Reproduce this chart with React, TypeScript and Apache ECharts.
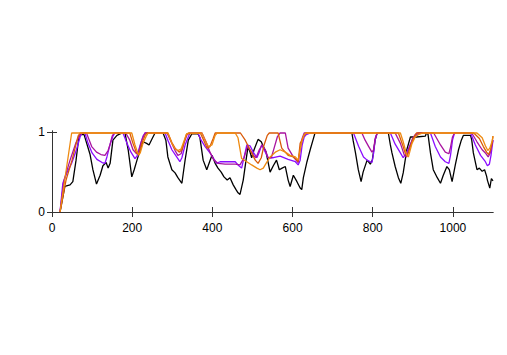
import React, { useEffect, useRef } from "react";
import * as echarts from "echarts";

const xTicks = [0, 200, 400, 600, 800, 1000];
const yTicks = [0, 1];

const blackSeries: [number, number][] = [
  [20, 0], [32, 0.32], [45, 0.34], [52, 0.38], [60, 0.65], [67, 0.94], [70, 0.97], [80, 0.97], [95, 0.72], [102, 0.53],
  [111, 0.35], [120, 0.46], [127, 0.58], [135, 0.62], [140, 0.55], [145, 0.61], [152, 0.9], [162, 0.96], [175, 0.99],
  [182, 0.99], [190, 0.78], [199, 0.44], [205, 0.53], [212, 0.65], [220, 0.78], [227, 0.88], [236, 0.86], [242, 0.84],
  [250, 0.92], [257, 0.99], [277, 0.99], [284, 0.9], [289, 0.69], [299, 0.53], [307, 0.49], [314, 0.43], [324, 0.36],
  [327, 0.47], [332, 0.65], [340, 0.9], [349, 0.98], [364, 0.98], [369, 0.93], [377, 0.65], [386, 0.53], [399, 0.71],
  [407, 0.61], [414, 0.55], [422, 0.5], [429, 0.44], [437, 0.4], [444, 0.43], [452, 0.34], [459, 0.28], [464, 0.24],
  [469, 0.22], [477, 0.4], [484, 0.65], [489, 0.82], [494, 0.75], [498, 0.68], [504, 0.78], [514, 0.91], [522, 0.88],
  [527, 0.82], [534, 0.75], [544, 0.5], [552, 0.58], [560, 0.65], [567, 0.53], [574, 0.55], [582, 0.57], [589, 0.4],
  [594, 0.32], [602, 0.46], [611, 0.38], [619, 0.3], [623, 0.28], [627, 0.43], [636, 0.63], [644, 0.78], [652, 0.92],
  [656, 0.99], [748, 0.99], [751, 0.9], [757, 0.74], [764, 0.53], [771, 0.38], [776, 0.5], [786, 0.65], [794, 0.6],
  [799, 0.65], [806, 0.9], [811, 0.99], [839, 0.99], [844, 0.84], [848, 0.74], [856, 0.57], [864, 0.43], [870, 0.36],
  [876, 0.49], [885, 0.78], [894, 0.94], [909, 0.94], [931, 0.95], [935, 1.0], [938, 0.97], [944, 0.74], [951, 0.53],
  [961, 0.43], [969, 0.36], [976, 0.46], [985, 0.57], [991, 0.53], [998, 0.38], [1006, 0.59], [1014, 0.78],
  [1021, 0.9], [1026, 0.96], [1044, 0.96], [1047, 0.9], [1051, 0.74], [1060, 0.53], [1066, 0.55], [1073, 0.51],
  [1079, 0.53], [1084, 0.45], [1086, 0.4], [1092, 0.3], [1096, 0.42], [1100, 0.39],
];

const violetSeries: [number, number][] = [
  [20, 0], [27, 0.36], [37, 0.49], [49, 0.61], [61, 0.78], [70, 0.94], [75, 0.99], [82, 0.99], [90, 0.86], [100, 0.74],
  [112, 0.66], [125, 0.62], [132, 0.61], [137, 0.69], [145, 0.85], [152, 0.95], [157, 0.99], [177, 0.99], [187, 0.86],
  [197, 0.75], [207, 0.67], [212, 0.7], [220, 0.84], [227, 0.95], [232, 0.99], [282, 0.99], [289, 0.9], [299, 0.78],
  [311, 0.69], [319, 0.63], [324, 0.68], [332, 0.84], [340, 0.94], [344, 0.99], [364, 0.99], [372, 0.9], [382, 0.82],
  [394, 0.74], [411, 0.61], [419, 0.63], [439, 0.63], [457, 0.63], [464, 0.59], [473, 0.55], [482, 0.75], [486, 0.84],
  [494, 0.83], [502, 0.75], [511, 0.68], [517, 0.75], [523, 0.84], [529, 0.78], [539, 0.68], [552, 0.68], [569, 0.7],
  [589, 0.66], [607, 0.63], [614, 0.59], [619, 0.65], [624, 0.84], [629, 0.94], [634, 0.97], [645, 0.99], [752, 0.99],
  [765, 0.82], [777, 0.69], [786, 0.65], [794, 0.63], [798, 0.62], [802, 0.73], [806, 0.9], [811, 0.99], [844, 0.99],
  [856, 0.85], [869, 0.74], [876, 0.68], [885, 0.75], [894, 0.85], [904, 0.94], [914, 0.99], [944, 0.99], [956, 0.82],
  [969, 0.69], [981, 0.63], [990, 0.61], [994, 0.71], [999, 0.9], [1004, 0.99], [1044, 0.99], [1056, 0.84],
  [1069, 0.71], [1081, 0.63], [1086, 0.58], [1091, 0.6], [1095, 0.71], [1100, 0.9],
];

const magentaSeries: [number, number][] = [
  [20, 0], [30, 0.4], [45, 0.65], [60, 0.87], [70, 0.97], [75, 0.99], [86, 0.99], [99, 0.82], [111, 0.75], [122, 0.72],
  [132, 0.71], [140, 0.77], [145, 0.85], [150, 0.95], [155, 0.99], [184, 0.99], [194, 0.9], [202, 0.78], [211, 0.73],
  [217, 0.77], [224, 0.9], [232, 0.99], [287, 0.99], [297, 0.88], [307, 0.77], [314, 0.71], [322, 0.73], [329, 0.86],
  [337, 0.97], [342, 0.99], [374, 0.99], [384, 0.88], [394, 0.75], [404, 0.65], [414, 0.61], [432, 0.6], [457, 0.6],
  [469, 0.59], [479, 0.68], [487, 0.82], [494, 0.78], [502, 0.71], [509, 0.68], [517, 0.78], [524, 0.84], [532, 0.78],
  [539, 0.68], [547, 0.68], [554, 0.8], [562, 0.94], [569, 0.99], [582, 0.99], [589, 0.8], [602, 0.69], [614, 0.62],
  [619, 0.78], [624, 0.92], [629, 0.99], [773, 0.99], [781, 0.9], [790, 0.82], [798, 0.75], [802, 0.78], [806, 0.92],
  [811, 0.99], [856, 0.99], [869, 0.86], [879, 0.71], [884, 0.69], [891, 0.8], [899, 0.92], [906, 0.97], [912, 0.99],
  [952, 0.99], [969, 0.84], [981, 0.75], [990, 0.73], [994, 0.81], [999, 0.94], [1004, 0.99], [1047, 0.99],
  [1060, 0.88], [1073, 0.78], [1081, 0.74], [1088, 0.69], [1093, 0.74], [1097, 0.84], [1100, 0.9],
];

const redSeries: [number, number][] = [
  [20, 0], [35, 0.4], [50, 0.65], [60, 0.85], [65, 0.95], [70, 0.99], [194, 0.99], [202, 0.86], [211, 0.74], [217, 0.72],
  [224, 0.86], [232, 0.96], [237, 0.99], [289, 0.99], [299, 0.87], [307, 0.8], [317, 0.75], [324, 0.78], [331, 0.9],
  [336, 0.98], [370, 0.99], [380, 0.88], [387, 0.8], [394, 0.82], [402, 0.92], [407, 0.99], [470, 0.99], [482, 0.9],
  [494, 0.78], [507, 0.65], [514, 0.61], [522, 0.68], [529, 0.84], [537, 0.96], [542, 0.99], [564, 0.99], [573, 0.8],
  [589, 0.71], [602, 0.69], [611, 0.65], [614, 0.63], [619, 0.86], [627, 0.94], [634, 0.99], [864, 0.99], [874, 0.85],
  [881, 0.74], [886, 0.7], [894, 0.82], [901, 0.92], [909, 0.99], [1052, 0.99], [1066, 0.92], [1076, 0.82],
  [1084, 0.75], [1089, 0.72], [1094, 0.78], [1098, 0.88], [1100, 0.95],
];

const orangeSeries: [number, number][] = [
  [20, 0], [49, 0.99], [199, 0.99], [207, 0.84], [216, 0.71], [220, 0.74], [227, 0.86], [235, 0.95], [240, 0.99],
  [289, 0.99], [299, 0.86], [307, 0.79], [314, 0.77], [322, 0.79], [330, 0.9], [335, 0.97], [340, 0.99], [374, 0.99],
  [382, 0.9], [390, 0.82], [399, 0.84], [407, 0.96], [412, 0.99], [457, 0.99], [464, 0.93], [473, 0.67], [486, 0.63],
  [498, 0.59], [511, 0.55], [519, 0.53], [527, 0.55], [534, 0.61], [544, 0.69], [557, 0.75], [569, 0.78], [582, 0.75],
  [594, 0.71], [607, 0.69], [614, 0.65], [619, 0.78], [624, 0.9], [629, 0.97], [634, 0.99], [869, 0.99], [876, 0.88],
  [885, 0.71], [889, 0.69], [898, 0.86], [906, 0.94], [914, 0.97], [925, 0.99], [1060, 0.99], [1073, 0.93],
  [1081, 0.83], [1087, 0.77], [1092, 0.8], [1098, 0.89], [1100, 0.95],
];

const seriesList = [
  { name: "s1", data: blackSeries, color: "#000000" },
  { name: "s2", data: violetSeries, color: "#8a0cff" },
  { name: "s3", data: magentaSeries, color: "#a8129f" },
  { name: "s4", data: redSeries, color: "#d95a08" },
  { name: "s5", data: orangeSeries, color: "#ee8a10" },
];

export default function App() {
  const ref = useRef<HTMLDivElement>(null);
  useEffect(() => {
    if (!ref.current) return;
    const chart = echarts.init(ref.current, null, { renderer: "svg" });
    const font = { fontFamily: "Liberation Sans, Arial, sans-serif", fontSize: 12, color: "#000" };
    const axisLine = { show: true, lineStyle: { color: "#333", width: 1 } };
    const plain = (v: number) => String(v);
    chart.setOption({
      animation: false,
      backgroundColor: "#fff",
      grid: { left: 52, top: 131, width: 441, height: 85, containLabel: false },
      xAxis: [
        {
          type: "value", min: 0, max: 1100, position: "bottom",
          axisLine, splitLine: { show: false },
          axisTick: { inside: true, length: 5, lineStyle: { color: "#333" }, customValues: xTicks },
          axisLabel: { ...font, margin: 6, customValues: xTicks, formatter: plain },
        },
        {
          type: "value", min: 0, max: 1100, position: "top",
          axisLine, splitLine: { show: false },
          axisTick: { inside: true, length: 5, lineStyle: { color: "#333" }, customValues: xTicks },
          axisLabel: { show: false },
        },
      ],
      yAxis: [
        {
          type: "value", min: -0.05, max: 1.015, position: "left",
          axisLine, splitLine: { show: false },
          axisTick: { inside: true, length: 5, lineStyle: { color: "#333" }, customValues: yTicks },
          axisLabel: { ...font, margin: 7, customValues: yTicks, formatter: plain },
        },
        {
          type: "value", min: -0.05, max: 1.015, position: "right",
          axisLine, splitLine: { show: false },
          axisTick: { inside: true, length: 5, lineStyle: { color: "#333" }, customValues: yTicks },
          axisLabel: { show: false },
        },
      ],
      series: seriesList.map((s) => ({
        type: "line",
        name: s.name,
        data: s.data,
        xAxisIndex: 0,
        yAxisIndex: 0,
        showSymbol: false,
        symbol: "none",
        lineStyle: { color: s.color, width: 1.3 },
        itemStyle: { color: s.color },
      })),
    });
    return () => chart.dispose();
  }, []);
  return (
    <div
      ref={ref}
      style={{ position: "fixed", left: 0, top: 0, width: 507, height: 355, background: "#fff" }}
    />
  );
}
